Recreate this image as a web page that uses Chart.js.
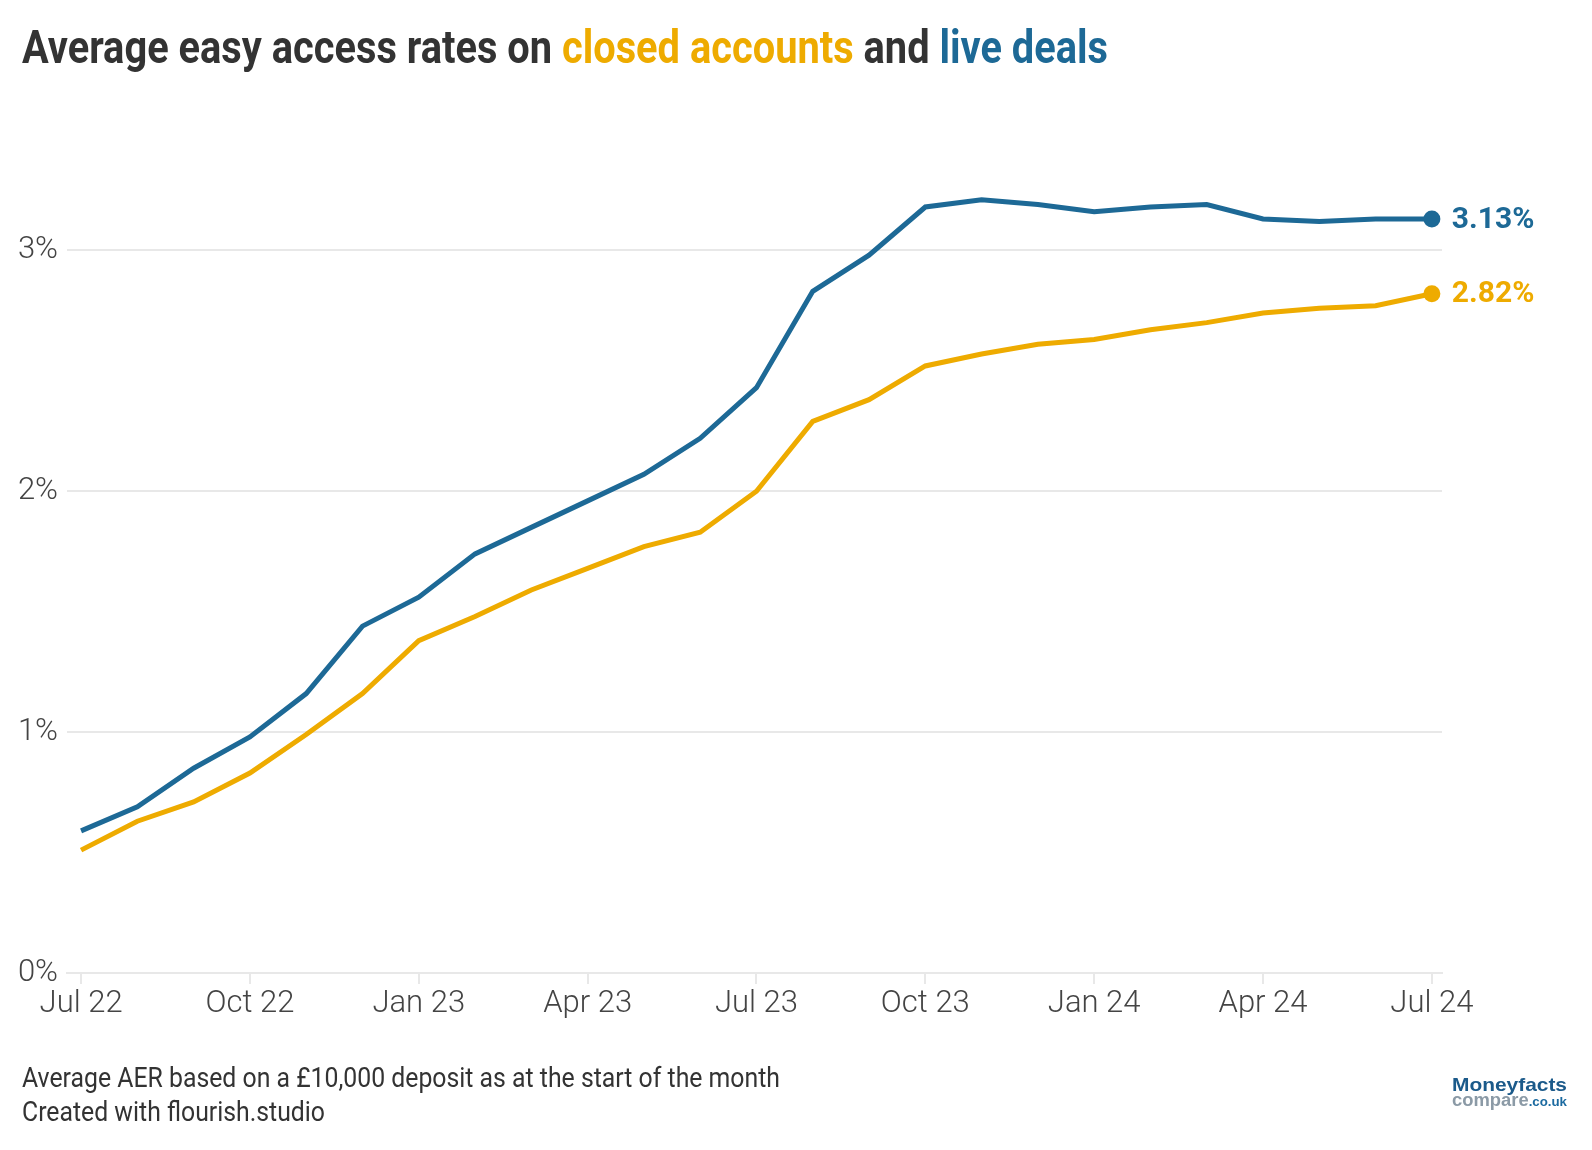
<!DOCTYPE html>
<html>
<head>
<meta charset="utf-8">
<script src="https://cdn.jsdelivr.net/npm/chart.js@4/dist/chart.umd.min.js"></script>
<style>
  html, body { margin: 0; padding: 0; background: #fff; }
  body { width: 1592px; height: 1150px; position: relative; overflow: hidden; font-family: Roboto, sans-serif; }
  #wrap { position: absolute; left: 0; top: 0; width: 1592px; height: 1150px; }
  .fit { position: absolute; white-space: nowrap; transform-origin: 0 50%; }
  #title { left: 22px; top: 22px; font-size: 46px; line-height: 50px; font-weight: 700; color: #333; }
  .yel { color: #eeab00; }
  .blu { color: #1d6996; }
  .foot { left: 22px; font-size: 27px; line-height: 32px; color: #333; }
  .logo { left: 1452px; font-family: Arial, "Liberation Sans", sans-serif; font-weight: 700; line-height: 16px; }
  .logo .m { color: #1b5a8a; }
  .logo .c { color: #8b9aa6; }
  .logo .u { color: #1b6aa0; font-size: 13px; }
</style>
</head>
<body>
<div id="wrap"><canvas id="chart"></canvas></div>
<div id="title" class="fit" data-w="1086">Average easy access rates on <span class="yel">closed accounts</span> and <span class="blu">live deals</span></div>
<div class="fit foot" data-w="758" style="top:1062px">Average AER based on a £10,000 deposit as at the start of the month</div>
<div class="fit foot" data-w="303" style="top:1096px">Created with flourish.studio</div>
<div class="fit logo" data-w="115" style="top:1077px;font-size:19px"><span class="m">Moneyfacts</span></div>
<div class="fit logo" data-w="115" style="top:1092px;font-size:18px"><span class="c">compare</span><span class="u">.co.uk</span></div>
<script>
// months Jul 22 .. Jul 24
const months = ["Jul 22","Aug 22","Sep 22","Oct 22","Nov 22","Dec 22","Jan 23","Feb 23","Mar 23","Apr 23","May 23","Jun 23",
  "Jul 23","Aug 23","Sep 23","Oct 23","Nov 23","Dec 23","Jan 24","Feb 24","Mar 24","Apr 24","May 24","Jun 24","Jul 24"];
const liveDeals = [0.59,0.69,0.85,0.98,1.16,1.44,1.56,1.74,1.85,1.96,2.07,2.22,
  2.43,2.83,2.98,3.18,3.21,3.19,3.16,3.18,3.19,3.13,3.12,3.13,3.13];
const closedAccounts = [0.51,0.63,0.71,0.83,0.99,1.16,1.38,1.48,1.59,1.68,1.77,1.83,
  2.00,2.29,2.38,2.52,2.57,2.61,2.63,2.67,2.70,2.74,2.76,2.77,2.82];
const xTicks = [0,3,6,9,12,15,18,21,24];
const yTicks = [0,1,2,3];

const BLUE = "#1d6996";
const YELLOW = "#eeab00";
const GRID = "#e8e8e8";

// squeeze text blocks to the condensed widths of the original
document.querySelectorAll(".fit").forEach(el => {
  const w = el.getBoundingClientRect().width;
  el.style.transform = `scaleX(${el.dataset.w / w})`;
});

const toPoints = arr => arr.map((v, i) => ({ x: i, y: v }));
const last = months.length - 1;

// value label next to the last point of each line
const endLabels = {
  id: "endLabels",
  afterDatasetsDraw(chart) {
    const { ctx } = chart;
    chart.data.datasets.forEach((ds, i) => {
      const pt = chart.getDatasetMeta(i).data[last];
      ctx.save();
      ctx.font = "700 30px Roboto";
      ctx.fillStyle = ds.borderColor;
      ctx.textAlign = "left";
      ctx.textBaseline = "middle";
      ctx.fillText(ds.data[last].y.toFixed(2) + "%", pt.x + 20, pt.y + 1);
      ctx.restore();
    });
  }
};

const lineSet = (label, arr, color) => ({
  label,
  data: toPoints(arr),
  borderColor: color,
  backgroundColor: color,
  borderWidth: 5,
  tension: 0,
  clip: false,
  pointRadius: c => c.dataIndex === last ? 8.5 : 0,
  pointHoverRadius: 0,
  pointBorderWidth: 0
});

new Chart(document.getElementById("chart"), {
  type: "line",
  data: {
    datasets: [
      lineSet("live deals", liveDeals, BLUE),
      lineSet("closed accounts", closedAccounts, YELLOW)
    ]
  },
  plugins: [endLabels],
  options: {
    responsive: true,
    maintainAspectRatio: false,
    animation: false,
    events: [],
    layout: { padding: { top: 154, right: 150, bottom: 117, left: 0 } },
    scales: {
      x: {
        type: "linear",
        min: -0.25,
        max: 24.18,
        afterBuildTicks: s => { s.ticks = xTicks.map(v => ({ value: v })); },
        afterFit: s => { s.height = 60; },
        border: { display: true, color: GRID, width: 2 },
        grid: { drawOnChartArea: false, drawTicks: true, tickLength: 11, color: GRID, lineWidth: 2 },
        ticks: {
          autoSkip: false,
          maxRotation: 0,
          padding: 2,
          color: "#444",
          font: { family: "Roboto", size: 31, weight: 300 },
          callback: v => months[v]
        }
      },
      y: {
        min: 0,
        max: 3.4,
        afterBuildTicks: s => { s.ticks = yTicks.map(v => ({ value: v })); },
        afterFit: s => { s.width = 67; },
        border: { display: false },
        grid: { drawTicks: false, color: GRID, lineWidth: 2 },
        ticks: {
          padding: 9,
          color: "#444",
          font: { family: "Roboto", size: 31, weight: 300 },
          callback: v => v + "%"
        }
      }
    },
    plugins: {
      legend: { display: false },
      tooltip: { enabled: false },
      title: { display: false }
    }
  }
});
</script>
</body>
</html>
